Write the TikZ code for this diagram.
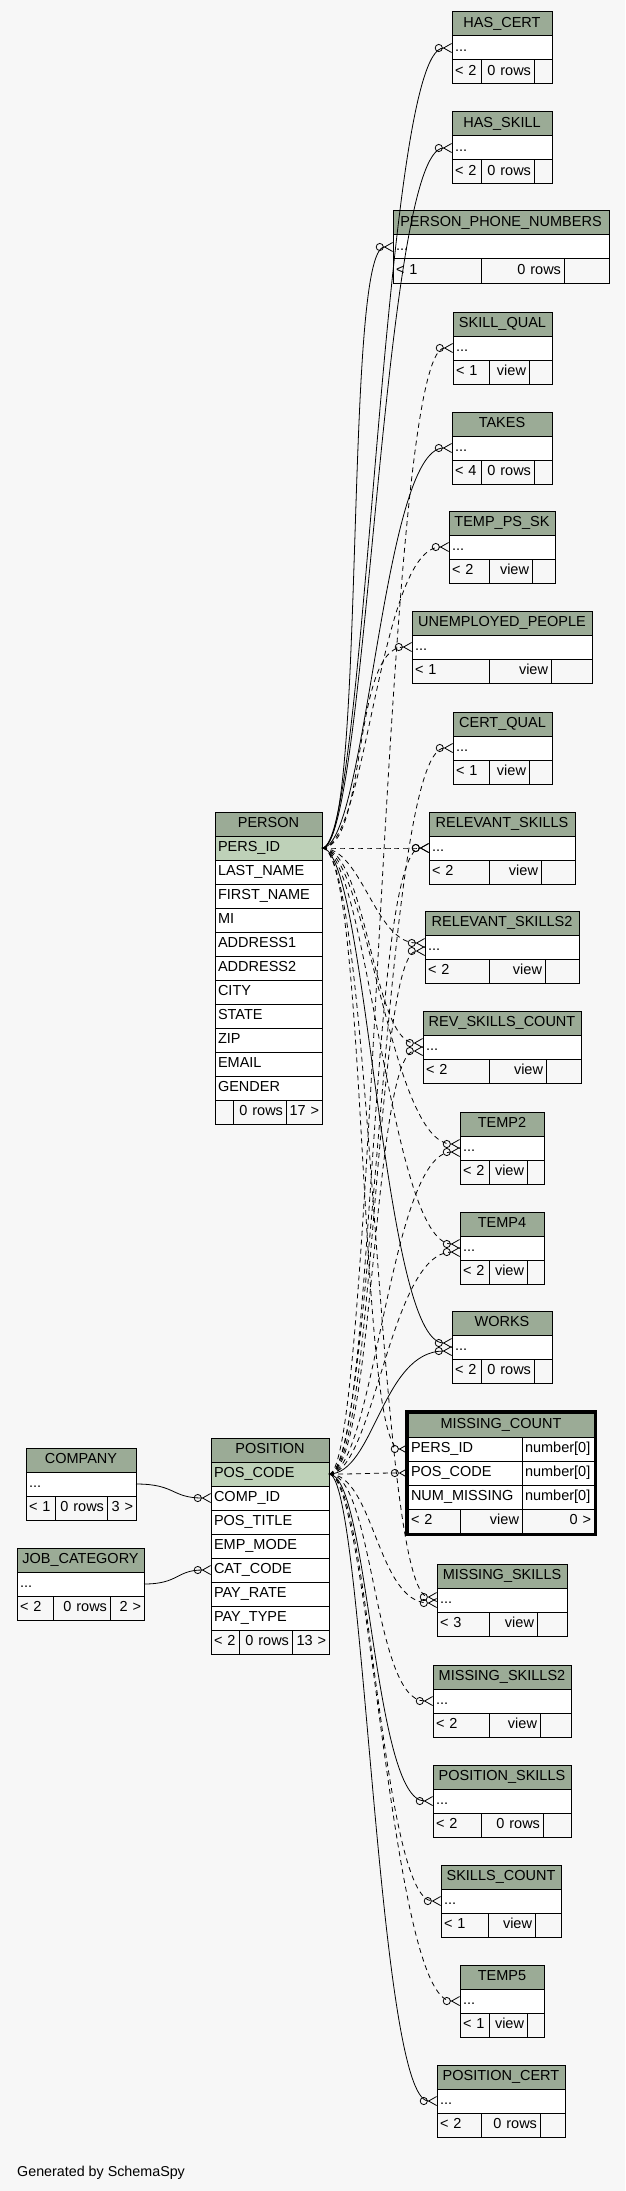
\documentclass[tikz,border=0pt]{standalone}
\usepackage{fontspec}
\setmainfont{Liberation Sans}
\usetikzlibrary{arrows.meta,fit}
\definecolor{hdrgreen}{HTML}{9BAB96}
\definecolor{keygreen}{HTML}{BED1B8}
\definecolor{paper}{HTML}{F7F7F7}
\begin{document}
\begin{tikzpicture}[x=1pt, y=-1pt,
    cell/.style={rectangle, draw=black, line width=1pt, outer sep=0pt, inner xsep=3pt, inner ysep=0pt, minimum height=24pt, text height=10.5pt, text depth=3pt, anchor=north west, font=\fontsize{14.5pt}{17pt}\selectfont, fill=white, align=left},
    wd/.style={minimum width=#1, text width={#1-6pt}},
    head/.style={cell, fill=hdrgreen, align=center},
    key/.style={cell, fill=keygreen},
    foot/.style={cell, fill=paper},
    footr/.style={cell, fill=paper, align=right},
    fk/.style={-{Circle[open, length=8pt, width=8pt] Straight Barb[reversed, length=8pt, width=9pt]}, line width=0.8pt},
    fkview/.style={fk, dash pattern=on 5pt off 4pt}
]
\fill[paper] (0,0) rectangle (625,2191);
\useasboundingbox (0,0) rectangle (625,2191);

% Small tables: id/label/x/y/footer widths/footer texts
\foreach \id/\lbl/\x/\y/\wa/\wb/\wc/\fa/\fb/\fc in {
    hascert/HAS\_CERT/452/12/29/53/18/< 2/0 rows/{},
    hasskill/HAS\_SKILL/452/112/29/53/18/< 2/0 rows/{},
    phone/PERSON\_PHONE\_NUMBERS/393/211/88/83/45/< 1/0 rows/{},
    skillqual/SKILL\_QUAL/453/312/36/40/23/< 1/view/{},
    takes/TAKES/452/412/29/53/18/< 4/0 rows/{},
    temppssk/TEMP\_PS\_SK/449/511/40/43/23/< 2/view/{},
    unemployed/UNEMPLOYED\_PEOPLE/412/611/77/62/41/< 1/view/{},
    certqual/CERT\_QUAL/453/712/36/40/23/< 1/view/{},
    relskills/RELEVANT\_SKILLS/429/812/60/52/34/< 2/view/{},
    relskills2/RELEVANT\_SKILLS2/425/911/64/56/34/< 2/view/{},
    revskills/REV\_SKILLS\_COUNT/423/1011/66/57/35/< 2/view/{},
    temp2/TEMP2/460/1112/29/38/17/< 2/view/{},
    temp4/TEMP4/460/1212/29/38/17/< 2/view/{},
    works/WORKS/452/1311/29/53/18/< 2/0 rows/{},
    missskills/MISSING\_SKILLS/437/1564/52/48/30/< 3/view/{},
    missskills2/MISSING\_SKILLS2/433/1665/56/51/31/< 2/view/{},
    posskills/POSITION\_SKILLS/433/1765/48/62/28/< 2/0 rows/{},
    skillscount/SKILLS\_COUNT/441/1865/47/47/26/< 1/view/{},
    temp5/TEMP5/460/1965/29/38/17/< 1/view/{},
    poscert/POSITION\_CERT/437/2065/44/59/25/< 2/0 rows/{},
    company/COMPANY/26/1448/29/52/29/< 1/0 rows/3 >,
    jobcat/JOB\_CATEGORY/17/1548/36/57/34/< 2/0 rows/2 >}{
  \node[head, wd={(\wa+\wb+\wc)*1pt}] (\id) at (\x,\y) {\lbl};
  \node[cell, wd={(\wa+\wb+\wc)*1pt}] (\id-row) at (\id.south west) {...};
  \node[foot, wd=\wa pt] (\id-f1) at (\id-row.south west) {\fa};
  \node[footr, wd=\wb pt] (\id-f2) at (\id-f1.north east) {\fb};
  \node[footr, wd=\wc pt] (\id-f3) at (\id-f2.north east) {\fc};
}

% PERSON
\node[head, wd=107pt] (person) at (215,812) {PERSON};
\node[key, wd=107pt] (person-key) at (person.south west) {PERS\_ID};
\foreach \c [count=\i] in {LAST\_NAME, FIRST\_NAME, MI, ADDRESS1, ADDRESS2, CITY, STATE, ZIP, EMAIL, GENDER}
  \node[cell, wd=107pt] (person-\i) at (215,{836+24*\i}) {\c};
\node[foot, wd=18pt] (person-f1) at (215,1100) {};
\node[footr, wd=53pt] (person-f2) at (person-f1.north east) {0 rows};
\node[footr, wd=36pt] (person-f3) at (person-f2.north east) {17 >};

% POSITION
\node[head, wd=118pt] (position) at (211,1438) {POSITION};
\node[key, wd=118pt] (position-key) at (position.south west) {POS\_CODE};
\node[cell, wd=118pt] (position-comp) at (211,1486) {COMP\_ID};
\node[cell, wd=118pt] (position-title) at (211,1510) {POS\_TITLE};
\node[cell, wd=118pt] (position-mode) at (211,1534) {EMP\_MODE};
\node[cell, wd=118pt] (position-cat) at (211,1558) {CAT\_CODE};
\node[cell, wd=118pt] (position-rate) at (211,1582) {PAY\_RATE};
\node[cell, wd=118pt] (position-type) at (211,1606) {PAY\_TYPE};
\node[foot, wd=28pt] (position-f1) at (211,1630) {< 2};
\node[footr, wd=53pt] (position-f2) at (position-f1.north east) {0 rows};
\node[footr, wd=37pt] (position-f3) at (position-f2.north east) {13 >};

% MISSING_COUNT (focused table)
\node[head, wd=186pt] (mc) at (408,1413) {MISSING\_COUNT};
\node[cell, wd=114pt] (mc-pid) at (mc.south west) {PERS\_ID};
\node[cell, wd=72pt] (mc-pidt) at (mc-pid.north east) {number[0]};
\node[cell, wd=114pt] (mc-pos) at (mc-pid.south west) {POS\_CODE};
\node[cell, wd=72pt] (mc-post) at (mc-pos.north east) {number[0]};
\node[cell, wd=114pt] (mc-num) at (mc-pos.south west) {NUM\_MISSING};
\node[cell, wd=72pt] (mc-numt) at (mc-num.north east) {number[0]};
\node[foot, wd=52pt] (mc-f1) at (mc-num.south west) {< 2};
\node[footr, wd=62pt] (mc-f2) at (mc-f1.north east) {view};
\node[footr, wd=72pt] (mc-f3) at (mc-f2.north east) {0 >};
\node[draw, line width=3pt, inner sep=1.5pt, fit=(mc)(mc-f3)] (mc-frame) {};

% Relationships
\foreach \src/\dst/\d/\a/\b/\k in {
    person-key/hascert-row/0/45/70/fk,
    person-key/hasskill-row/0/45/70/fk,
    person-key/phone-row/0/45/50/fk,
    person-key/takes-row/0/45/70/fk,
    person-key/temppssk-row/0/45/70/fkview,
    person-key/unemployed-row/0/45/60/fkview,
    person-key/relskills-row/0/45/60/fkview,
    person-key/relskills2-row/4/40/50/fkview,
    person-key/revskills-row/4/45/50/fkview,
    person-key/temp2-row/4/45/70/fkview,
    person-key/temp4-row/4/45/70/fkview,
    person-key/works-row/4/45/70/fk,
    person-key/mc-pid/0/45/50/fkview,
    person-key/missskills-row/3/50/60/fkview,
    position-key/skillqual-row/0/45/70/fkview,
    position-key/certqual-row/0/45/70/fkview,
    position-key/relskills-row/0/45/60/fkview,
    position-key/relskills2-row/-4/45/50/fkview,
    position-key/revskills-row/-4/45/50/fkview,
    position-key/temp2-row/-4/45/70/fkview,
    position-key/temp4-row/-4/45/70/fkview,
    position-key/works-row/-4/45/70/fk,
    position-key/mc-pos/0/40/40/fkview,
    position-key/missskills-row/-3/45/60/fkview,
    position-key/missskills2-row/0/45/60/fkview,
    position-key/posskills-row/0/40/60/fk,
    position-key/skillscount-row/0/40/60/fkview,
    position-key/temp5-row/0/40/70/fkview,
    position-key/poscert-row/0/35/60/fk,
    company-row/position-comp/0/40/40/fk,
    jobcat-row/position-cat/0/35/35/fk}
  \draw[\k] (\src.east) .. controls +(\a,0) and +(-\b,0) .. ([yshift=\d pt]\dst.west);

\node[anchor=base west, inner sep=0pt, font=\fontsize{14.3pt}{17pt}\selectfont] (credit) at (17,2176) {Generated by SchemaSpy};
\end{tikzpicture}
\end{document}
